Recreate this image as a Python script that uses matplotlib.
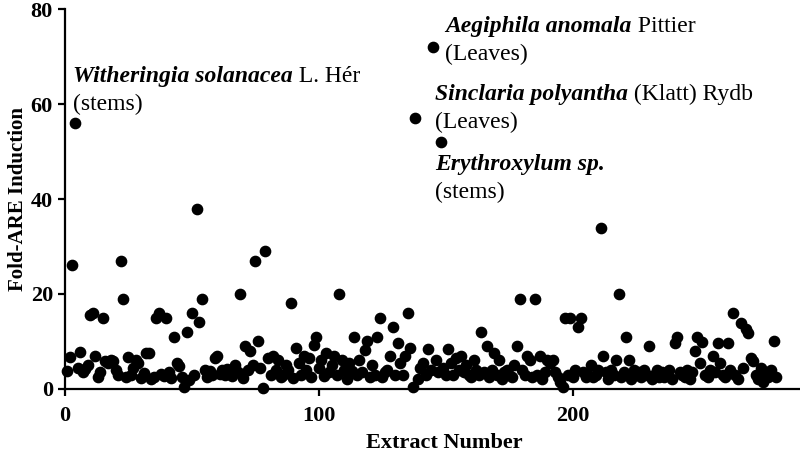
import matplotlib
matplotlib.use('Agg')
import matplotlib.pyplot as plt
import numpy as np

plt.rcParams['font.family'] = ['Liberation Serif', 'DejaVu Serif']

# fold induction per extract (extract number = position + 1)
fold = [
    3.8, 6.8, 26, 56, 4.5, 7.8, 3.5, 4.2, 5.0, 15.6,
    16, 7.0, 2.6, 3.5, 15, 5.8, 5.5, 6.0, 5.8, 4.0,
    3.0, 27, 19, 2.5, 6.8, 3.0, 4.5, 6.0, 5.5, 2.2,
    3.3, 7.5, 7.5, 2.0, 2.5, 15, 16, 3.2, 2.8, 15,
    3.5, 2.2, 11, 5.5, 4.8, 2.5, 0.5, 12, 1.8, 16,
    3.0, 38, 14, 19, 4.0, 2.5, 3.8, 3.0, 6.5, 7.0,
    3.2, 4.0, 3.0, 4.2, 3.5, 2.8, 5.0, 3.5, 20, 2.2,
    9.0, 4.0, 8.0, 5.0, 27, 10, 4.5, 0.2, 29, 6.5,
    3.0, 7.0, 4.0, 6.0, 2.5, 3.0, 5.0, 4.0, 18, 2.2,
    8.6, 5.5, 3.0, 7.0, 4.0, 6.5, 2.5, 9.3, 11, 4.5,
    6.0, 2.8, 7.5, 3.5, 5.0, 7.0, 3.0, 20, 6.0, 4.0,
    2.0, 5.5, 3.8, 11, 3.0, 6.0, 3.5, 8.2, 10, 2.5,
    5.0, 3.0, 11, 15, 2.5, 3.5, 4.0, 7.0, 13, 3.0,
    9.6, 5.5, 3.0, 7.0, 16, 8.6, 0.5, 57, 2.0, 4.5,
    5.5, 3.0, 8.4, 4.0, 72, 6.0, 3.5, 52, 4.5, 3.0,
    8.4, 5.5, 3.0, 6.5, 4.0, 7.0, 3.5, 5.0, 3.0, 2.5,
    6.0, 4.0, 3.0, 12, 3.5, 9.0, 2.5, 4.0, 7.5, 3.0,
    6.0, 2.0, 3.5, 4.0, 3.0, 2.5, 5.0, 9.0, 19, 4.0,
    3.0, 7.0, 6.0, 2.5, 19, 3.0, 7.0, 2.0, 3.5, 6.0,
    5.5, 6.0, 3.5, 2.5, 1.5, 0.5, 15, 3.0, 15, 2.5,
    4.0, 13, 15, 3.5, 2.5, 3.0, 5.0, 2.5, 3.0, 4.0,
    34, 7.0, 3.5, 2.0, 4.0, 3.0, 6.0, 20, 2.5, 3.5,
    11, 6.0, 2.0, 4.0, 3.0, 3.5, 2.5, 4.0, 3.0, 9.0,
    2.0, 3.0, 4.0, 2.5, 3.5, 2.5, 3.0, 4.0, 2.0, 9.6,
    11, 3.5, 3.0, 2.5, 4.0, 2.0, 3.5, 8.0, 11, 5.5,
    9.8, 3.0, 2.5, 4.0, 7.0, 3.5, 9.6, 5.5, 3.0, 2.5,
    9.6, 4.0, 16, 3.0, 2.0, 13.8, 4.5, 12.6, 11.7, 6.5,
    5.8, 3.0, 2.0, 4.5, 1.5, 3.5, 2.5, 4.0, 10, 2.5,
]
extract = np.arange(1, len(fold) + 1)

# labelled hits: species (bold italic), authority, plant part, text anchor
species = ['Witheringia solanacea', 'Aegiphila anomala',
           'Sinclaria polyantha', 'Erythroxylum sp.']
authority = [' L. Hér', ' Pittier', ' (Klatt) Rydb', '']
part = ['(stems)', '(Leaves)', '(Leaves)', '(stems)']
label_x = [3.3, 149.8, 145.9, 145.9]
label_y = [64.6, 75.2, 60.8, 46.1]

fig = plt.figure(figsize=(8, 4.57), dpi=100)
ax = fig.add_axes([0.081, 0.149, 0.919, 0.831])

ax.plot(extract, fold, 'o', color='black', markersize=7.4, clip_on=False)

ax.set_xlim(0, 289.4)
ax.set_ylim(0, 80)
ax.set_xticks([0, 100, 200])
ax.set_yticks([0, 20, 40, 60, 80])
for s in ['top', 'right']:
    ax.spines[s].set_visible(False)
for s in ['left', 'bottom']:
    ax.spines[s].set_linewidth(1.6)
ax.tick_params(width=1.6, length=5, labelsize=16)
ax.tick_params(axis='x', pad=7)
for t in ax.get_xticklabels() + ax.get_yticklabels():
    t.set_fontweight('bold')

ax.set_xlabel('Extract Number', fontsize=16, fontweight='bold')
ax.xaxis.set_label_coords(0.516, -0.115)
ax.set_ylabel('Fold-ARE Induction', fontsize=15, fontweight='bold', labelpad=2)

fig.canvas.draw()
r = fig.canvas.get_renderer()
for sp, au, pa, x, y in zip(species, authority, part, label_x, label_y):
    t1 = ax.text(x, y, sp, fontsize=17, fontweight='bold', style='italic',
                 va='baseline', ha='left')
    w = t1.get_window_extent(r).width
    ax.annotate(au, xy=(x, y), xytext=(w * 72 / fig.dpi, 0),
                textcoords='offset points', fontsize=17, va='baseline', ha='left')
    ax.annotate(pa, xy=(x, y), xytext=(0, -20),
                textcoords='offset points', fontsize=17, va='baseline', ha='left')

fig.savefig('out.png', dpi=100)
